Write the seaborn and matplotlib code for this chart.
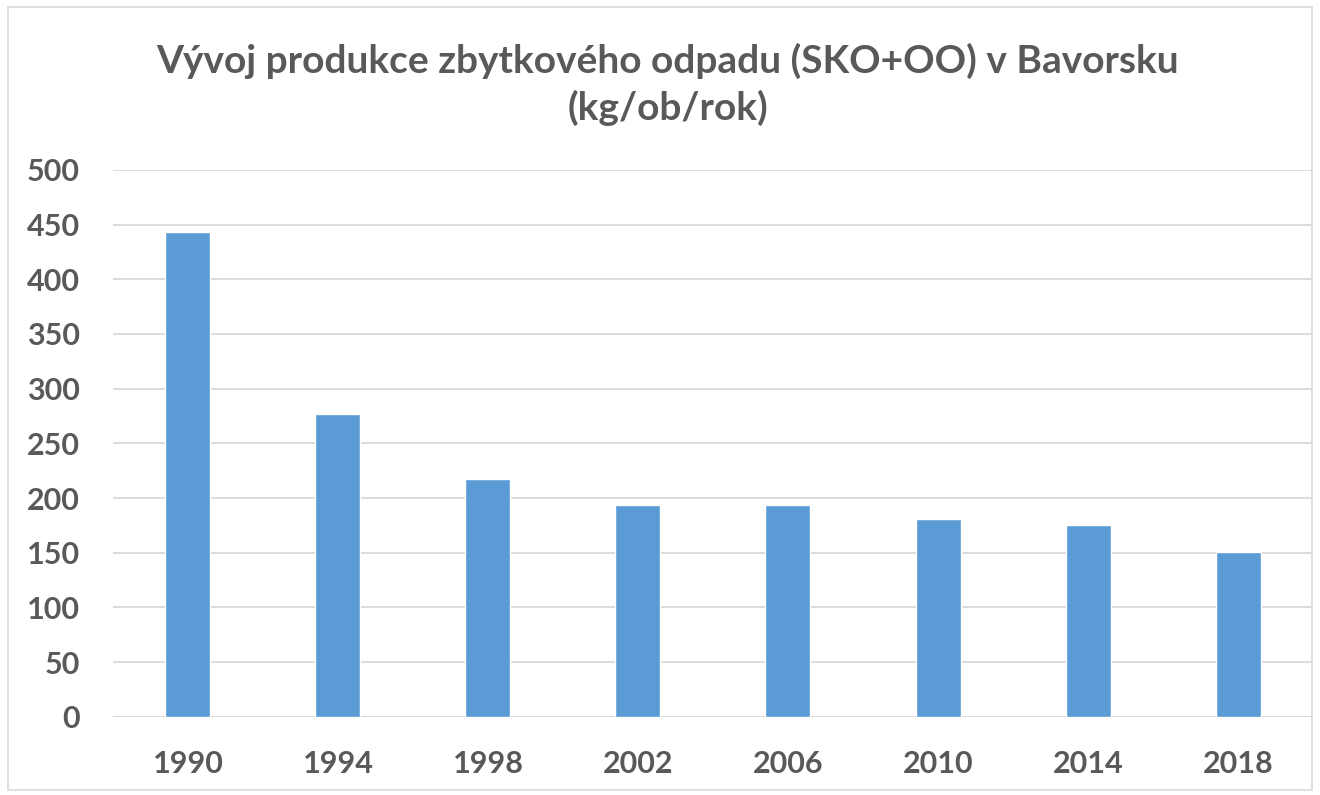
import matplotlib
matplotlib.use("Agg")
import matplotlib.pyplot as plt
import pandas as pd
import seaborn as sns
from matplotlib.patches import Rectangle

years = ["1990", "1994", "1998", "2002", "2006", "2010", "2014", "2018"]
waste = [443, 277, 217, 194, 194, 181, 175, 151]
y_ticks = [0, 50, 100, 150, 200, 250, 300, 350, 400, 450, 500]

title = "Vývoj produkce zbytkového odpadu (SKO+OO) v Bavorsku\n(kg/ob/rok)"

sns.set_theme(style="white")
plt.rcParams["font.family"] = ["Lato", "DejaVu Sans"]

df = pd.DataFrame({"rok": years, "odpad": waste})

fig = plt.figure(figsize=(13.2, 7.95), dpi=100)
ax = fig.add_axes([0.0856, 0.0985, 0.9091, 0.6877])

sns.barplot(data=df, x="rok", y="odpad", color="#5B9BD5", saturation=1,
            width=0.3, ax=ax, zorder=3)

ax.set_ylim(0, 500)
ax.set_yticks(y_ticks)
ax.set_xlim(-0.5, len(years) - 0.5)
ax.grid(axis="y", color="#D9D9D9", linewidth=1.3, zorder=0)
ax.set_axisbelow(True)
for s in ax.spines.values():
    s.set_visible(False)
ax.axhline(0, color="#D9D9D9", linewidth=1.3, zorder=1)
ax.set_xlabel("")
ax.set_ylabel("")
ax.tick_params(axis="both", length=0, labelsize=22, labelcolor="#595959")
ax.tick_params(axis="y", pad=24)
ax.tick_params(axis="x", pad=24)
for lab in ax.get_xticklabels() + ax.get_yticklabels():
    lab.set_fontweight("bold")

fig.text(0.506, 0.894, title, ha="center", va="center", fontsize=28,
         fontweight="bold", color="#595959", linespacing=1.35)

fig.patches.append(Rectangle((0.006, 0.006), 0.988, 0.985,
                             transform=fig.transFigure, fill=False,
                             edgecolor="#D9D9D9", linewidth=1.2))

fig.savefig("out.png", dpi=100)
